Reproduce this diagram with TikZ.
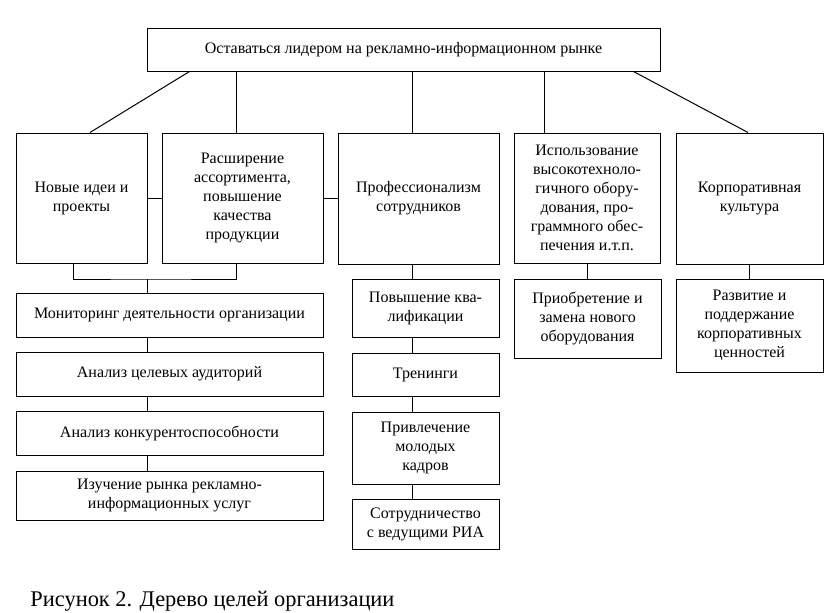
\documentclass[tikz,border=0pt]{standalone}
\usepackage{fontspec}
\setmainfont{Liberation Serif}
\tikzstyle{aim}=[rectangle, draw, line width=1pt, align=center, inner sep=2pt, font=\fontsize{16}{19}\selectfont]
\tikzstyle{caption}=[anchor=base west, inner sep=0pt, font=\fontsize{22.4}{27}\selectfont]

\begin{document}
\begin{tikzpicture}[x=1pt, y=-1pt, line width=1pt]
  \useasboundingbox (0,0) rectangle (838,613);
  \node[aim, minimum width=513pt, minimum height=43pt] (goal) at (403.5,49.5) {Оставаться лидером на рекламно-информационном рынке};

  \node[aim, minimum width=131pt, minimum height=130pt] (ideas) at (81.5,198) {Новые идеи и\\проекты};
  \node[aim, minimum width=161pt, minimum height=130pt] (range) at (242.5,198) {Расширение\\ассортимента,\\повышение\\качества\\продукции};
  \node[aim, minimum width=161pt, minimum height=131pt] (prof) at (418.5,198.5) {Профессионализм\\сотрудников};
  \node[aim, minimum width=146pt, minimum height=130pt] (tech) at (587,198) {Использование\\высокотехноло-\\гичного обору-\\дования, про-\\граммного обес-\\печения и.т.п.};
  \node[aim, minimum width=147pt, minimum height=131pt] (culture) at (749.5,198.5) {Корпоративная\\культура};

  \node[aim, minimum width=307pt, minimum height=44pt] (monitor) at (169.5,315) {Мониторинг деятельности организации};
  \node[aim, minimum width=307pt, minimum height=44pt] (audience) at (169.5,374) {Анализ целевых аудиторий};
  \node[aim, minimum width=307pt, minimum height=44pt] (compet) at (169.5,433) {Анализ конкурентоспособности};
  \node[aim, minimum width=307pt, minimum height=49pt] (market) at (169.5,495.5) {Изучение рынка рекламно-\\информационных услуг};

  \node[aim, minimum width=147pt, minimum height=58pt] (qualif) at (425.5,308) {Повышение ква-\\лификации};
  \node[aim, minimum width=147pt, minimum height=43pt] (training) at (425.5,374.5) {Тренинги};
  \node[aim, minimum width=147pt, minimum height=72pt] (young) at (425.5,448) {Привлечение\\молодых\\кадров};
  \node[aim, minimum width=147pt, minimum height=50pt] (coop) at (425.5,524) {Сотрудничество\\с ведущими РИА};

  \node[aim, minimum width=147pt, minimum height=79pt] (equip) at (587.5,318.5) {Приобретение и\\замена нового\\оборудования};
  \node[aim, minimum width=147pt, minimum height=93pt] (values) at (749.5,325.5) {Развитие и\\поддержание\\корпоративных\\ценностей};

  \node[caption] (title) at (30,606) {Рисунок 2. Дерево целей организации};

  \coordinate (j1) at (147,279);
  \coordinate (j2) at (412,0);
  \coordinate (j3) at (236,0);

  \draw ([xshift=43pt]goal.south west) -- ([xshift=8.5pt]ideas.north);
  \draw (goal.south -| j3) -- (range.north -| j3);
  \draw (goal.south -| j2) -- (prof.north -| j2);
  \draw ([xshift=-43pt]tech.north) -- ([xshift=-43pt]tech.north |- goal.south);
  \draw ([xshift=-27pt]goal.south east) -- ([xshift=-1.5pt]culture.north);

  \draw (ideas.east) -- (range.west);
  \draw (range.east) -- (range.east -| prof.west);

  \draw ([xshift=-8.5pt]ideas.south) |- (j1) -| (range.south -| j3);
  \draw (j1) -- (j1 |- monitor.north);
  \foreach \a/\b in {monitor/audience, audience/compet, compet/market}
    \draw (\a.south -| j1) -- (\b.north -| j1);

  \foreach \a/\b in {prof/qualif, qualif/training, training/young, young/coop}
    \draw (\a.south -| j2) -- (\b.north -| j2);

  \draw (tech.south) -- (tech.south |- equip.north);
  \draw (culture.south) -- (values.north);
\end{tikzpicture}
\end{document}
